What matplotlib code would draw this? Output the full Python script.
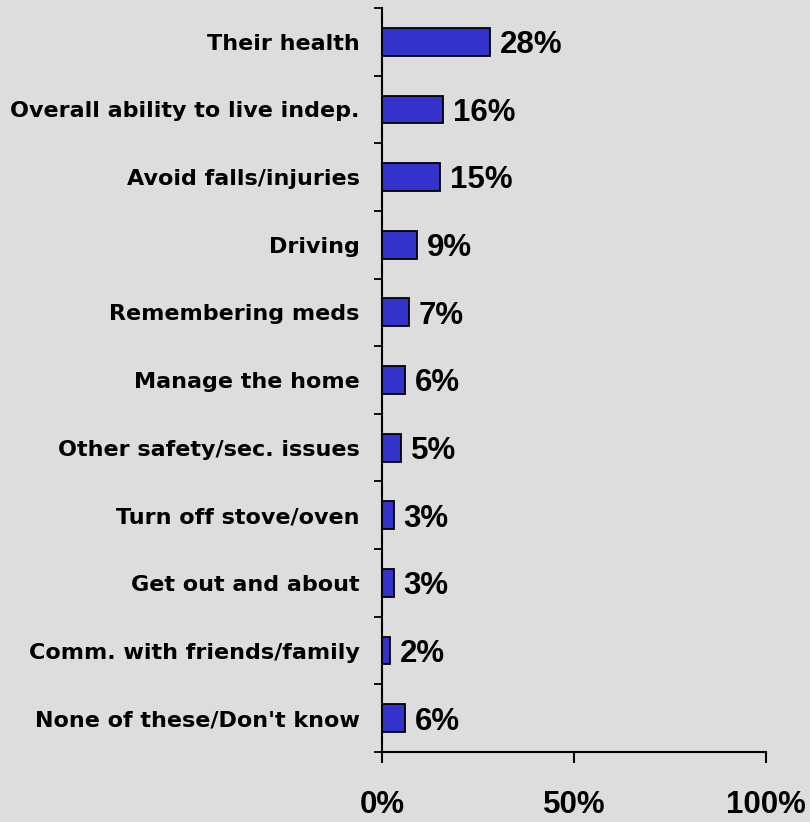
import matplotlib
matplotlib.use("Agg")
import matplotlib.pyplot as plt
import numpy as np

categories = [
    "Their health",
    "Overall ability to live indep.",
    "Avoid falls/injuries",
    "Driving",
    "Remembering meds",
    "Manage the home",
    "Other safety/sec. issues",
    "Turn off stove/oven",
    "Get out and about",
    "Comm. with friends/family",
    "None of these/Don't know",
]
values = [28, 16, 15, 9, 7, 6, 5, 3, 3, 2, 6]
x_ticks = [0, 50, 100]
x_tick_labels = ["0%", "50%", "100%"]

BG = "#dddddd"
BAR = "#3333cc"

plt.rcParams["font.family"] = ["Liberation Sans", "DejaVu Sans"]
plt.rcParams["font.weight"] = "bold"

fig = plt.figure(figsize=(8.1, 8.22), dpi=100, facecolor=BG)
ax = fig.add_axes([382 / 810, 1 - 752 / 822, (766 - 382) / 810, (752 - 8) / 822])
ax.set_facecolor(BG)

pos = np.arange(len(categories))
ax.barh(pos, values, height=0.41, color=BAR, edgecolor="black", linewidth=1.3)

for p, v in zip(pos, values):
    ax.text(v + 2.6, p + 0.05, f"{v}%", va="center", ha="left",
            fontsize=22.5, fontweight="bold")

ax.set_xlim(0, 100)
ax.set_ylim(len(categories) - 0.5, -0.5)

# ticks between categories, labels at category centers
ax.set_yticks(np.arange(-0.5, len(categories), 1.0))
ax.set_yticklabels([])
ax.set_yticks(pos, minor=True)
ax.set_yticklabels(categories, minor=True, fontsize=16, fontweight="bold",
                   family=["DejaVu Sans"])
ax.tick_params(axis="y", which="major", direction="out", length=6, width=1.3)
ax.tick_params(axis="y", which="minor", length=0, pad=16)

ax.set_xticks(x_ticks)
ax.set_xticklabels(x_tick_labels, fontsize=22.5, fontweight="bold")
ax.tick_params(axis="x", direction="out", length=8, width=1.5, pad=19)

for side in ("top", "right"):
    ax.spines[side].set_visible(False)
for side in ("left", "bottom"):
    ax.spines[side].set_linewidth(1.5)

fig.savefig("out.png", dpi=100, facecolor=BG)
